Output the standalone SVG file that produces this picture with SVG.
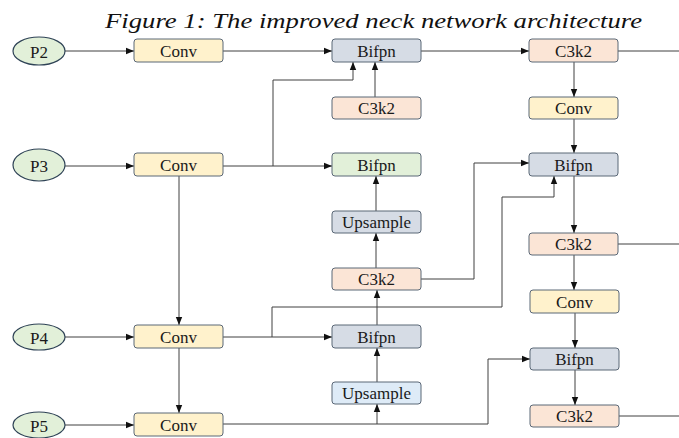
<svg xmlns="http://www.w3.org/2000/svg" width="679" height="438" viewBox="0 0 679 438">
<defs>
<marker id="ah" markerUnits="userSpaceOnUse" markerWidth="8" markerHeight="8" viewBox="0 0 8 8" refX="8" refY="4" orient="auto">
<path d="M0,0.8 L8,4 L0,7.2 Z" fill="#111"/>
</marker>
<style>
.box{stroke:#5b6877;stroke-width:1}
.conv{fill:#fff2cc}
.bif{fill:#d6dce5}
.c3{fill:#fbe5d6}
.grn{fill:#e2f0d9}
.up2{fill:#deebf7}
.ell{fill:#e2f0d9;stroke:#2f4356;stroke-width:1.2}
.t{font-family:'Liberation Serif','Times New Roman',serif;font-size:17px;fill:#1a1a1a;text-anchor:middle;dominant-baseline:central}
.ln{fill:none;stroke:#404040;stroke-width:1}
.ar{marker-end:url(#ah)}
</style>
</defs>
<rect width="679" height="438" fill="#fff"/>
<text x="105" y="28" font-family="Liberation Serif" font-style="italic" font-size="21" fill="#111" textLength="537" lengthAdjust="spacingAndGlyphs">Figure 1: The improved neck network architecture</text>

<g id="connectors">
<path class="ln ar" d="M65,51 H134"/>
<path class="ln ar" d="M223,51 H332"/>
<path class="ln ar" d="M421,51 H529"/>
<path class="ln" d="M618,51 H679"/>
<path class="ln ar" d="M574,62 V97"/>
<path class="ln ar" d="M574,119 V153"/>
<path class="ln ar" d="M574,176 V233"/>
<path class="ln" d="M618,244 H679"/>
<path class="ln ar" d="M574,255 V290"/>
<path class="ln ar" d="M575,313 V348"/>
<path class="ln ar" d="M575,370 V405"/>
<path class="ln" d="M619,416 H679"/>
<path class="ln ar" d="M65,166 H134"/>
<path class="ln ar" d="M223,166 H332"/>
<path class="ln ar" d="M273,166 V80 H353 V62"/>
<path class="ln ar" d="M375,97 V62"/>
<path class="ln ar" d="M376,211 V176"/>
<path class="ln ar" d="M376,268 V233"/>
<path class="ln ar" d="M421,279 H474 V163 H529"/>
<path class="ln ar" d="M179,176 V325"/>
<path class="ln ar" d="M65,337 H134"/>
<path class="ln ar" d="M223,337 H332"/>
<path class="ln ar" d="M272,337 V307 H502 V197 H554 V176"/>
<path class="ln ar" d="M377,325 V290"/>
<path class="ln ar" d="M377,382 V348"/>
<path class="ln ar" d="M179,348 V413"/>
<path class="ln ar" d="M65,425 H134"/>
<path class="ln ar" d="M223,424 H488 V359 H530"/>
<path class="ln ar" d="M377,424 V404"/>
</g>

<g id="P2"><ellipse class="ell" cx="39" cy="51" rx="26" ry="14"/><text class="t" x="39" y="52">P2</text></g>
<g id="P3"><ellipse class="ell" cx="39" cy="165" rx="26" ry="16"/><text class="t" x="39" y="166">P3</text></g>
<g id="P4"><ellipse class="ell" cx="39" cy="337" rx="26" ry="13"/><text class="t" x="39" y="338">P4</text></g>
<g id="P5"><ellipse class="ell" cx="39" cy="425" rx="26" ry="13"/><text class="t" x="39" y="426">P5</text></g>

<g id="conv1"><rect class="box conv" x="134" y="39" width="89" height="23" rx="3"/><text class="t" x="178.5" y="51">Conv</text></g>
<g id="conv2"><rect class="box conv" x="134" y="153" width="89" height="23" rx="3"/><text class="t" x="178.5" y="165">Conv</text></g>
<g id="conv3"><rect class="box conv" x="134" y="325" width="89" height="23" rx="3"/><text class="t" x="178.5" y="337">Conv</text></g>
<g id="conv4"><rect class="box conv" x="134" y="413" width="89" height="23" rx="3"/><text class="t" x="178.5" y="425">Conv</text></g>

<g id="bifpn1"><rect class="box bif" x="332" y="39" width="89" height="23" rx="3"/><text class="t" x="376.5" y="51">Bifpn</text></g>
<g id="c3k2a"><rect class="box c3" x="332" y="97" width="89" height="22" rx="3"/><text class="t" x="376.5" y="108">C3k2</text></g>
<g id="bifpn2"><rect class="box grn" x="332" y="153" width="89" height="23" rx="3"/><text class="t" x="376.5" y="165">Bifpn</text></g>
<g id="upsample1"><rect class="box bif" x="332" y="211" width="89" height="22" rx="3"/><text class="t" x="376.5" y="222">Upsample</text></g>
<g id="c3k2b"><rect class="box c3" x="332" y="268" width="89" height="22" rx="3"/><text class="t" x="376.5" y="279">C3k2</text></g>
<g id="bifpn3"><rect class="box bif" x="332" y="325" width="89" height="23" rx="3"/><text class="t" x="376.5" y="337">Bifpn</text></g>
<g id="upsample2"><rect class="box up2" x="332" y="382" width="89" height="22" rx="3"/><text class="t" x="376.5" y="393">Upsample</text></g>

<g id="c3k2c"><rect class="box c3" x="529" y="39" width="89" height="23" rx="3"/><text class="t" x="573.5" y="51">C3k2</text></g>
<g id="conv5"><rect class="box conv" x="529" y="97" width="89" height="22" rx="3"/><text class="t" x="573.5" y="108">Conv</text></g>
<g id="bifpn4"><rect class="box bif" x="529" y="153" width="89" height="23" rx="3"/><text class="t" x="573.5" y="165">Bifpn</text></g>
<g id="c3k2d"><rect class="box c3" x="529" y="233" width="89" height="22" rx="3"/><text class="t" x="573.5" y="244">C3k2</text></g>
<g id="conv6"><rect class="box conv" x="530" y="290" width="89" height="23" rx="3"/><text class="t" x="574.5" y="302">Conv</text></g>
<g id="bifpn5"><rect class="box bif" x="530" y="348" width="89" height="22" rx="3"/><text class="t" x="574.5" y="359">Bifpn</text></g>
<g id="c3k2e"><rect class="box c3" x="530" y="405" width="89" height="22" rx="3"/><text class="t" x="574.5" y="416">C3k2</text></g>
</svg>
